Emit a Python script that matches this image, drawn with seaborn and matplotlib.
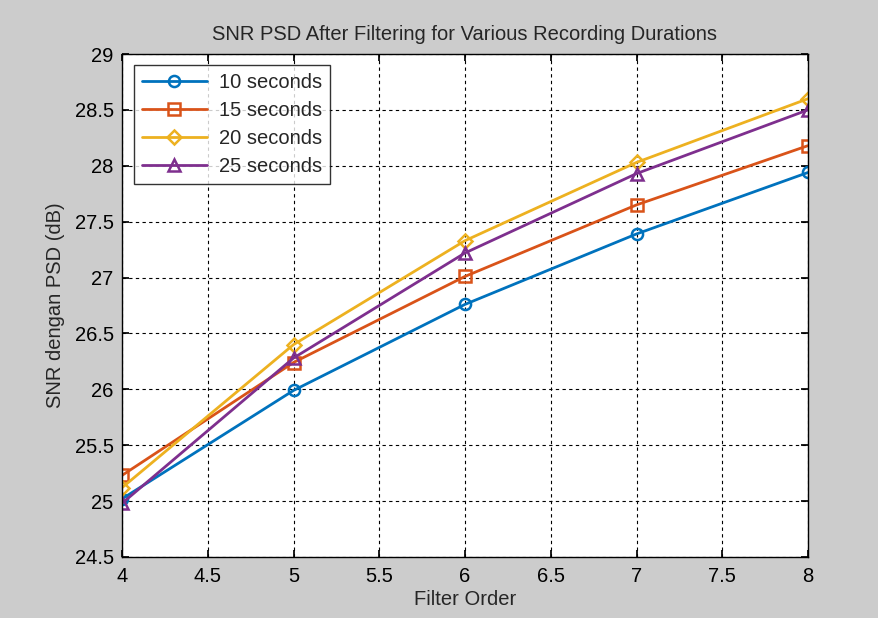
import matplotlib
matplotlib.use("Agg")
import matplotlib.pyplot as plt
import seaborn as sns
import pandas as pd

filter_order = [4, 5, 6, 7, 8]
snr_10s = [25.02, 25.99, 26.76, 27.39, 27.94]
snr_15s = [25.23, 26.24, 27.01, 27.65, 28.18]
snr_20s = [25.12, 26.40, 27.33, 28.03, 28.60]
snr_25s = [24.98, 26.28, 27.22, 27.93, 28.50]
labels = ["10 seconds", "15 seconds", "20 seconds", "25 seconds"]
series = [snr_10s, snr_15s, snr_20s, snr_25s]
colors = ["#0072BD", "#D95319", "#EDB120", "#7E2F8E"]
markers = ["o", "s", "D", "^"]
msizes = [8, 8, 7, 9]

sns.set_theme(style="white")
plt.rcParams["font.family"] = ["Liberation Sans", "DejaVu Sans"]

FS = 14.5

fig = plt.figure(figsize=(8.79, 6.18), dpi=100)
fig.patch.set_facecolor("#cccccc")
ax = fig.add_axes([122 / 879, 1 - 557 / 618, 686 / 879, 503 / 618])
ax.set_facecolor("white")

for lab, vals, c, m, ms in zip(labels, series, colors, markers, msizes):
    df = pd.DataFrame({"Filter Order": filter_order, "SNR": vals})
    sns.lineplot(data=df, x="Filter Order", y="SNR", ax=ax, color=c, marker=m,
                 markersize=ms, markerfacecolor="none", markeredgecolor=c,
                 markeredgewidth=1.8, linewidth=2, label=lab)

ax.set_xlim(4, 8)
ax.set_ylim(24.5, 29)
ax.set_xticks([4, 4.5, 5, 5.5, 6, 6.5, 7, 7.5, 8])
ax.set_xticklabels(["4", "4.5", "5", "5.5", "6", "6.5", "7", "7.5", "8"])
ax.set_yticks([24.5, 25, 25.5, 26, 26.5, 27, 27.5, 28, 28.5, 29])
ax.set_yticklabels(["24.5", "25", "25.5", "26", "26.5", "27", "27.5", "28", "28.5", "29"])
ax.grid(True, color="black", linestyle=(0, (3, 3)), linewidth=0.8)
ax.tick_params(direction="in", length=5, labelsize=FS, colors="black",
               top=True, right=True, bottom=True, left=True)
ax.tick_params(axis="x", pad=7)
ax.tick_params(axis="y", pad=6)
for s in ax.spines.values():
    s.set_color("black")
    s.set_linewidth(1)
    s.set_visible(True)

ax.set_title("SNR PSD After Filtering for Various Recording Durations", fontsize=FS, pad=10)
ax.set_xlabel("Filter Order", fontsize=FS, labelpad=3)
ax.set_ylabel("SNR dengan PSD (dB)", fontsize=FS, labelpad=7)

leg = ax.legend(loc="upper left", bbox_to_anchor=(12 / 686, 1 - 11 / 503),
                fontsize=FS, frameon=True, fancybox=False,
                edgecolor="black", borderaxespad=0, borderpad=0.4,
                handlelength=3.2, handletextpad=0.6, labelspacing=0.45)
leg.get_frame().set_linewidth(1)

fig.savefig("out.png", dpi=100, facecolor=fig.get_facecolor())
